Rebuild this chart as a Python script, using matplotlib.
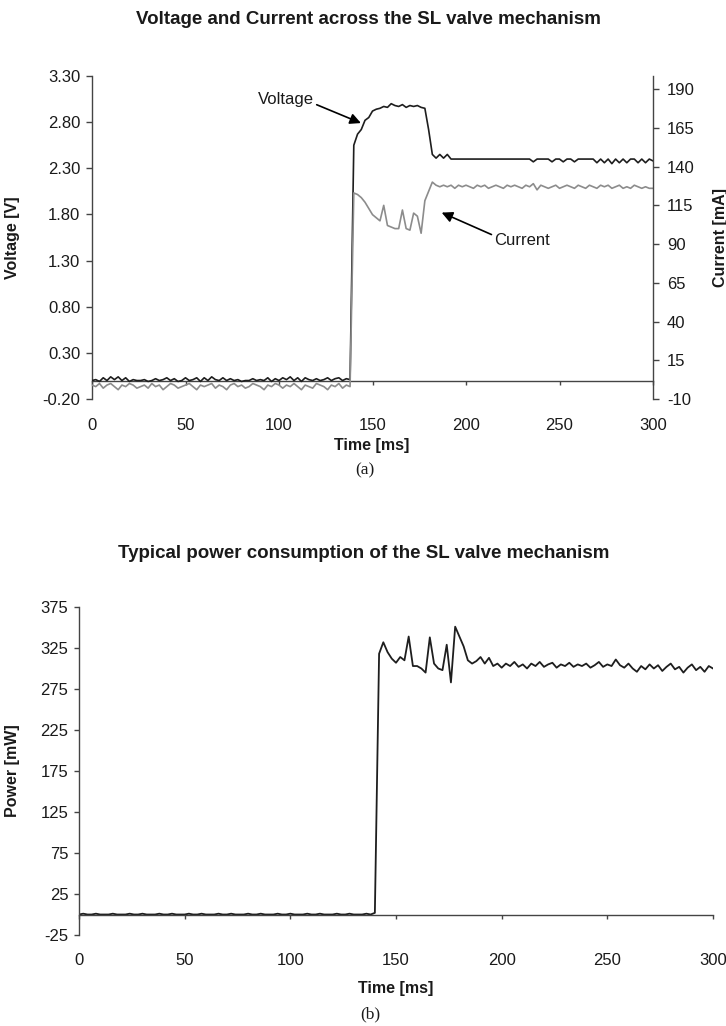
import numpy as np
import matplotlib.pyplot as plt

plt.rcParams['font.family'] = ['Liberation Sans', 'DejaVu Sans']
plt.rcParams['axes.unicode_minus'] = False

# sample times [ms], one sample every 2 ms
time_ms = np.arange(0, 301, 2)

voltage = [
    0.00, 0.01, -0.01, 0.03, 0.00, 0.04, 0.01, 0.04, 0.00, 0.03,
    -0.01, 0.01, 0.00, 0.00, 0.01, -0.01, 0.00, 0.02, 0.00, 0.01,
    0.03, 0.00, 0.02, -0.01, 0.00, 0.03, 0.00, 0.01, 0.03, -0.01,
    0.03, 0.00, 0.04, 0.01, 0.00, 0.03, 0.00, 0.02, 0.00, 0.01,
    -0.01, 0.00, 0.00, 0.02, 0.00, 0.01, 0.00, 0.03, -0.01, 0.02,
    0.00, 0.03, 0.01, 0.04, 0.00, 0.03, -0.01, 0.03, 0.01, 0.00,
    0.02, 0.00, 0.01, 0.03, 0.00, 0.02, 0.03, 0.00, 0.02, 0.01,
    2.55, 2.67, 2.72, 2.82, 2.85, 2.92, 2.94, 2.95, 2.97, 2.96,
    3.00, 2.98, 2.97, 2.99, 2.96, 2.98, 2.97, 2.98, 2.96, 2.95,
    2.72, 2.45, 2.41, 2.45, 2.41, 2.45, 2.40, 2.40, 2.40, 2.40,
    2.40, 2.40, 2.40, 2.40, 2.40, 2.40, 2.40, 2.40, 2.40, 2.40,
    2.40, 2.40, 2.40, 2.40, 2.40, 2.40, 2.40, 2.40, 2.37, 2.40,
    2.40, 2.40, 2.40, 2.37, 2.40, 2.40, 2.37, 2.40, 2.40, 2.37,
    2.40, 2.40, 2.40, 2.40, 2.40, 2.36, 2.40, 2.36, 2.40, 2.35,
    2.40, 2.36, 2.40, 2.36, 2.40, 2.40, 2.36, 2.40, 2.36, 2.40,
    2.38,
]

current = [
    -1, -2, 0, -3, -1, 0, -2, -4, -1, -2,
    0, -1, -3, -2, -1, -3, 0, -2, -1, -4,
    -2, 0, -1, -3, -2, -1, 0, -2, -4, -1,
    -2, -1, 0, -3, -1, -2, -4, -1, 0, -2,
    -1, -3, -2, 0, -1, -2, -4, -1, -2, 0,
    -1, -3, -1, -2, 0, -2, -4, -1, -2, -3,
    0, -1, -2, -4, -1, -2, 0, -3, -1, -2,
    123, 122, 120, 117, 113, 109, 107, 105, 115, 102,
    101, 100, 100, 112, 100, 99, 110, 108, 97, 118,
    124, 130, 128, 127, 128, 127, 128, 126, 128, 127,
    128, 127, 126, 128, 127, 128, 126, 127, 128, 127,
    126, 128, 127, 128, 127, 126, 128, 127, 129, 125,
    128, 127, 126, 127, 128, 126, 127, 128, 127, 126,
    128, 127, 126, 128, 127, 126, 128, 127, 128, 126,
    127, 128, 126, 127, 126, 128, 127, 126, 127, 126,
    126,
]

power = [
    0, 1, 0, 0, 1, 0, 0, 0, 1, 0,
    0, 0, 1, 0, 0, 1, 0, 0, 0, 1,
    0, 0, 1, 0, 0, 0, 1, 0, 0, 1,
    0, 0, 0, 1, 0, 0, 1, 0, 0, 0,
    1, 0, 0, 1, 0, 0, 0, 1, 0, 0,
    1, 0, 0, 0, 1, 0, 0, 1, 0, 0,
    0, 1, 0, 0, 1, 0, 0, 0, 1, 0,
    2, 318, 332, 320, 312, 307, 314, 310, 339, 303,
    303, 300, 295, 338, 306, 300, 298, 329, 283, 351,
    339, 327, 310, 306, 309, 314, 306, 313, 303, 306,
    301, 306, 303, 308, 302, 305, 300, 306, 303, 308,
    302, 305, 307, 301, 305, 303, 307, 302, 305, 303,
    306, 301, 304, 308, 302, 305, 303, 311, 304, 301,
    306, 300, 296, 303, 299, 305, 300, 304, 297, 302,
    306, 299, 302, 295, 301, 305, 298, 302, 296, 303,
    300,
]

x_ticks = [0, 50, 100, 150, 200, 250, 300]
volt_ticks = [-0.2, 0.3, 0.8, 1.3, 1.8, 2.3, 2.8, 3.3]
curr_ticks = [-10, 15, 40, 65, 90, 115, 140, 165, 190]
power_ticks = [-25, 25, 75, 125, 175, 225, 275, 325, 375]

W, H = 726, 1026
spine_col = '#444444'
txt_col = '#1a1a1a'
fs = 12

fig = plt.figure(figsize=(W / 100, H / 100), dpi=100)


def box(left, top, right, bottom):
    return [left / W, 1 - bottom / H, (right - left) / W, (bottom - top) / H]


# ---------- (a) voltage and current ----------
ax1 = fig.add_axes(box(92, 76, 653, 399))
ax2 = ax1.twinx()

ax1.plot(time_ms, voltage, color='#1e1e1e', lw=1.2, zorder=3)
ax2.plot(time_ms, current, color='#8c8c8c', lw=1.2)

ax1.set_xlim(0, 300)
ax1.set_ylim(-0.2, 3.3)
ax1.set_yticks(volt_ticks)
ax1.set_yticklabels(['%.2f' % v for v in volt_ticks])
ax1.set_xticks(x_ticks)
ax2.set_ylim(-10, 198.5)
ax2.set_yticks(curr_ticks)

for s in ['top', 'right']:
    ax1.spines[s].set_visible(False)
for s in ['top', 'left', 'bottom']:
    ax2.spines[s].set_visible(False)
ax1.spines['bottom'].set_position(('data', 0))
for sp in [ax1.spines['left'], ax1.spines['bottom'], ax2.spines['right']]:
    sp.set_color(spine_col)
    sp.set_linewidth(1.0)

ax1.tick_params(axis='y', length=4.5, width=1, color=spine_col, pad=4,
                labelsize=fs, labelcolor=txt_col)
ax1.tick_params(axis='x', length=3, width=1, color=spine_col, pad=24,
                labelsize=fs, labelcolor=txt_col)
ax2.tick_params(axis='y', length=4, width=1, color=spine_col, pad=6,
                labelsize=fs, labelcolor=txt_col)

ax1.set_ylabel('Voltage [V]', fontsize=11.5, fontweight='bold', color=txt_col)
ax1.yaxis.set_label_coords(-0.128, 0.5)
ax2.set_ylabel('Current [mA]', fontsize=11.5, fontweight='bold', color=txt_col)
ax2.yaxis.set_label_coords(1.107, 0.5)

ax1.annotate('Voltage', xy=(143.8, 2.79), xytext=(103.7, 3.05),
             ha='center', va='center', fontsize=fs, color=txt_col,
             arrowprops=dict(arrowstyle='-|>', color='black', lw=1.2,
                             mutation_scale=16, shrinkA=0, shrinkB=0,
                             relpos=(1.0, 0.2)))
ax1.annotate('Current', xy=(187, 1.82), xytext=(230, 1.52),
             ha='center', va='center', fontsize=fs, color=txt_col,
             arrowprops=dict(arrowstyle='-|>', color='black', lw=1.2,
                             mutation_scale=16, shrinkA=0, shrinkB=0,
                             relpos=(0.0, 0.8)))

fig.text(368 / W, 1 - 20 / H, 'Voltage and Current across the SL valve mechanism',
         ha='center', va='center', fontsize=13.5, fontweight='bold', color=txt_col)
fig.text(372 / W, 1 - 446 / H, 'Time [ms]', ha='center', va='center',
         fontsize=11.5, fontweight='bold', color=txt_col)
fig.text(365 / W, 1 - 470 / H, '(a)', ha='center', va='center',
         fontsize=12.5, family=['Liberation Serif'], color=txt_col)

# ---------- (b) power ----------
ax3 = fig.add_axes(box(79, 607, 713, 935))
ax3.plot(time_ms, power, color='#1e1e1e', lw=1.3)
ax3.set_xlim(0, 300)
ax3.set_ylim(-25, 375)
ax3.set_yticks(power_ticks)
ax3.set_xticks(x_ticks)
for s in ['top', 'right']:
    ax3.spines[s].set_visible(False)
ax3.spines['bottom'].set_position(('data', 0))
for s in ['left', 'bottom']:
    ax3.spines[s].set_color(spine_col)
    ax3.spines[s].set_linewidth(1.0)
ax3.tick_params(axis='y', length=3.6, width=1, color=spine_col, pad=4,
                labelsize=fs, labelcolor=txt_col)
ax3.tick_params(axis='x', length=3, width=1, color=spine_col, pad=25,
                labelsize=fs, labelcolor=txt_col)
ax3.set_ylabel('Power [mW]', fontsize=11.5, fontweight='bold', color=txt_col)
ax3.yaxis.set_label_coords(-0.093, 0.5)

fig.text(364 / W, 1 - 553 / H, 'Typical power consumption of the SL valve mechanism',
         ha='center', va='center', fontsize=13.5, fontweight='bold', color=txt_col)
fig.text(396 / W, 1 - 988 / H, 'Time [ms]', ha='center', va='center',
         fontsize=11.5, fontweight='bold', color=txt_col)
fig.text(370 / W, 1 - 1014 / H, '(b)', ha='center', va='center',
         fontsize=12.5, family=['Liberation Serif'], color=txt_col)

fig.savefig('out.png', dpi=100)
